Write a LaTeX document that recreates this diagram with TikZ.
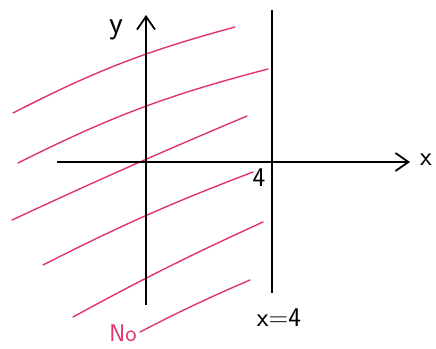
\documentclass[tikz,border=0pt]{standalone}
\usepackage{fontspec}
\usetikzlibrary{arrows.meta}
\definecolor{hatchpink}{RGB}{224,52,112}
\begin{document}
\begin{tikzpicture}[x=1pt,y=-1pt,
  axis/.style={line width=1.8pt,black},
  hatch/.style={line width=1.4pt,hatchpink,line cap=round},
  lbl/.style={font=\fontsize{27}{29}\selectfont\sffamily},
  chev/.style={-{Straight Barb[length=13pt,width=18pt,line width=1.8pt]}}]
\useasboundingbox (0,0) rectangle (436,348);
% hatch lines
\coordinate (h1a) at (13,113); \coordinate (h1b) at (235,27);
\coordinate (h2a) at (18,163); \coordinate (h2b) at (268,69);
\coordinate (h3a) at (12,220); \coordinate (h3b) at (247,116);
\coordinate (h4a) at (43,265); \coordinate (h4b) at (253,172);
\coordinate (h5a) at (73,317); \coordinate (h5b) at (263,222);
\coordinate (h6a) at (140,332); \coordinate (h6b) at (250,280);
\draw[hatch] (h1a) to[bend left=6] (h1b);
\draw[hatch] (h2a) to[bend left=6] (h2b);
\draw[hatch] (h3a) to[bend left=1] (h3b);
\draw[hatch] (h4a) to[bend left=3] (h4b);
\draw[hatch] (h5a) to[bend left=2] (h5b);
\draw[hatch] (h6a) to[bend left=2] (h6b);
% axes
\coordinate (xs) at (57,162); \coordinate (xe) at (410,162);
\coordinate (ys) at (146,305); \coordinate (ye) at (146,15);
\draw[axis,chev] (xs) -- (xe);
\draw[axis,chev] (ys) -- (ye);
% line x=4
\coordinate (vt) at (272,10); \coordinate (vb) at (272,293);
\draw[axis] (vt) -- (vb);
% labels
\node[font=\fontsize{32}{34}\selectfont\sffamily] (ylab) at (116,30) {y};
\node[lbl] (xlab) at (426,160) {x};
\node[lbl] (four) at (259,178) {4};
\node[lbl] (eqlab) at (279,318) {x=4};
\node[font=\fontsize{24}{26}\selectfont\sffamily,text=hatchpink,inner sep=1pt] (no) at (123,333) {No};
\end{tikzpicture}
\end{document}
